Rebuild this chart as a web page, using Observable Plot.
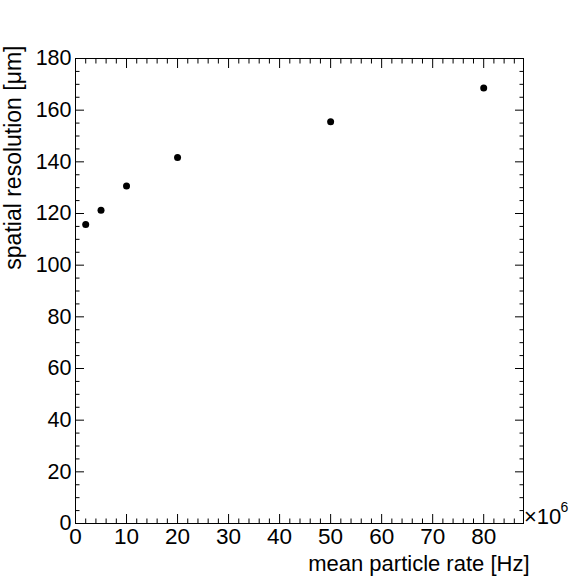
<!DOCTYPE html>
<html>
<head>
<meta charset="utf-8">
<script src="https://cdn.jsdelivr.net/npm/d3@7"></script>
<script src="https://cdn.jsdelivr.net/npm/@observablehq/plot@0.6"></script>
<style>
  html, body { margin: 0; padding: 0; background: white; }
</style>
</head>
<body>
<div id="chart"></div>
<script>
const rates = [2, 5, 10, 20, 50, 80];            // mean particle rate [10^6 Hz]
const resolution = [115.7, 121.3, 130.6, 141.7, 155.5, 168.6]; // spatial resolution [µm]

const xMajor = [0, 10, 20, 30, 40, 50, 60, 70, 80];
const xMinor = d3.range(0, 88, 2).filter(v => v % 10 !== 0);
const yMajor = [0, 20, 40, 60, 80, 100, 120, 140, 160, 180];
const yMinor = d3.range(0, 181, 5).filter(v => v % 20 !== 0);

const xTitle = "mean particle rate [Hz]";
const yTitle = "spatial resolution [μm]";

const points = rates.map((r, i) => ({rate: r, res: resolution[i]}));

const noText = () => "";
const FONT = "'Liberation Sans', Arial, Helvetica, sans-serif";

const chart = Plot.plot({
  width: 581,
  height: 581,
  marginLeft: 75,
  marginRight: 58,
  marginTop: 58,
  marginBottom: 58,
  style: {fontFamily: FONT, background: "white"},
  x: {domain: [0, 87.8], axis: null},
  y: {domain: [0, 180], axis: null},
  marks: [
    Plot.frame({stroke: "black", strokeWidth: 1}),
    // ticks on all four sides, pointing inward
    Plot.axisX(xMajor, {anchor: "bottom", tickSize: -9, tickFormat: noText, label: null}),
    Plot.axisX(xMinor, {anchor: "bottom", tickSize: -4.5, tickFormat: noText, label: null}),
    Plot.axisX(xMajor, {anchor: "top", tickSize: -9, tickFormat: noText, label: null}),
    Plot.axisX(xMinor, {anchor: "top", tickSize: -4.5, tickFormat: noText, label: null}),
    Plot.axisY(yMajor, {anchor: "left", tickSize: -9, tickFormat: noText, label: null}),
    Plot.axisY(yMinor, {anchor: "left", tickSize: -4.5, tickFormat: noText, label: null}),
    Plot.axisY(yMajor, {anchor: "right", tickSize: -9, tickFormat: noText, label: null}),
    Plot.axisY(yMinor, {anchor: "right", tickSize: -4.5, tickFormat: noText, label: null}),
    // tick labels
    Plot.text(xMajor, {x: d => d, frameAnchor: "bottom", lineAnchor: "top", dy: 5, fontSize: 22.5, fontFamily: FONT, fill: "black"}),
    Plot.text(yMajor, {y: d => d, frameAnchor: "left", textAnchor: "end", lineAnchor: "middle", dx: -4, fontSize: 21.5, fontFamily: FONT, fill: "black"}),
    // exponent
    Plot.text(["×10"], {frameAnchor: "bottom-right", textAnchor: "start", lineAnchor: "bottom", dx: 0.5, dy: 0, fontSize: 22, fontFamily: FONT, fill: "black"}),
    Plot.text(["6"], {frameAnchor: "bottom-right", textAnchor: "start", lineAnchor: "bottom", dx: 37, dy: -12, fontSize: 14, fontFamily: FONT, fill: "black"}),
    // axis titles
    Plot.text([xTitle], {frameAnchor: "bottom-right", textAnchor: "end", lineAnchor: "bottom", dx: 6, dy: 47, fontSize: 22, fontFamily: FONT, fill: "black"}),
    Plot.text([yTitle], {frameAnchor: "top-left", textAnchor: "end", lineAnchor: "middle", rotate: -90, dx: -62, dy: -13, fontSize: 23, fontFamily: FONT, fill: "black"}),
    // data
    Plot.dot(points, {x: "rate", y: "res", r: 3.5, fill: "black", stroke: null})
  ]
});

document.getElementById("chart").appendChild(chart);
</script>
</body>
</html>
